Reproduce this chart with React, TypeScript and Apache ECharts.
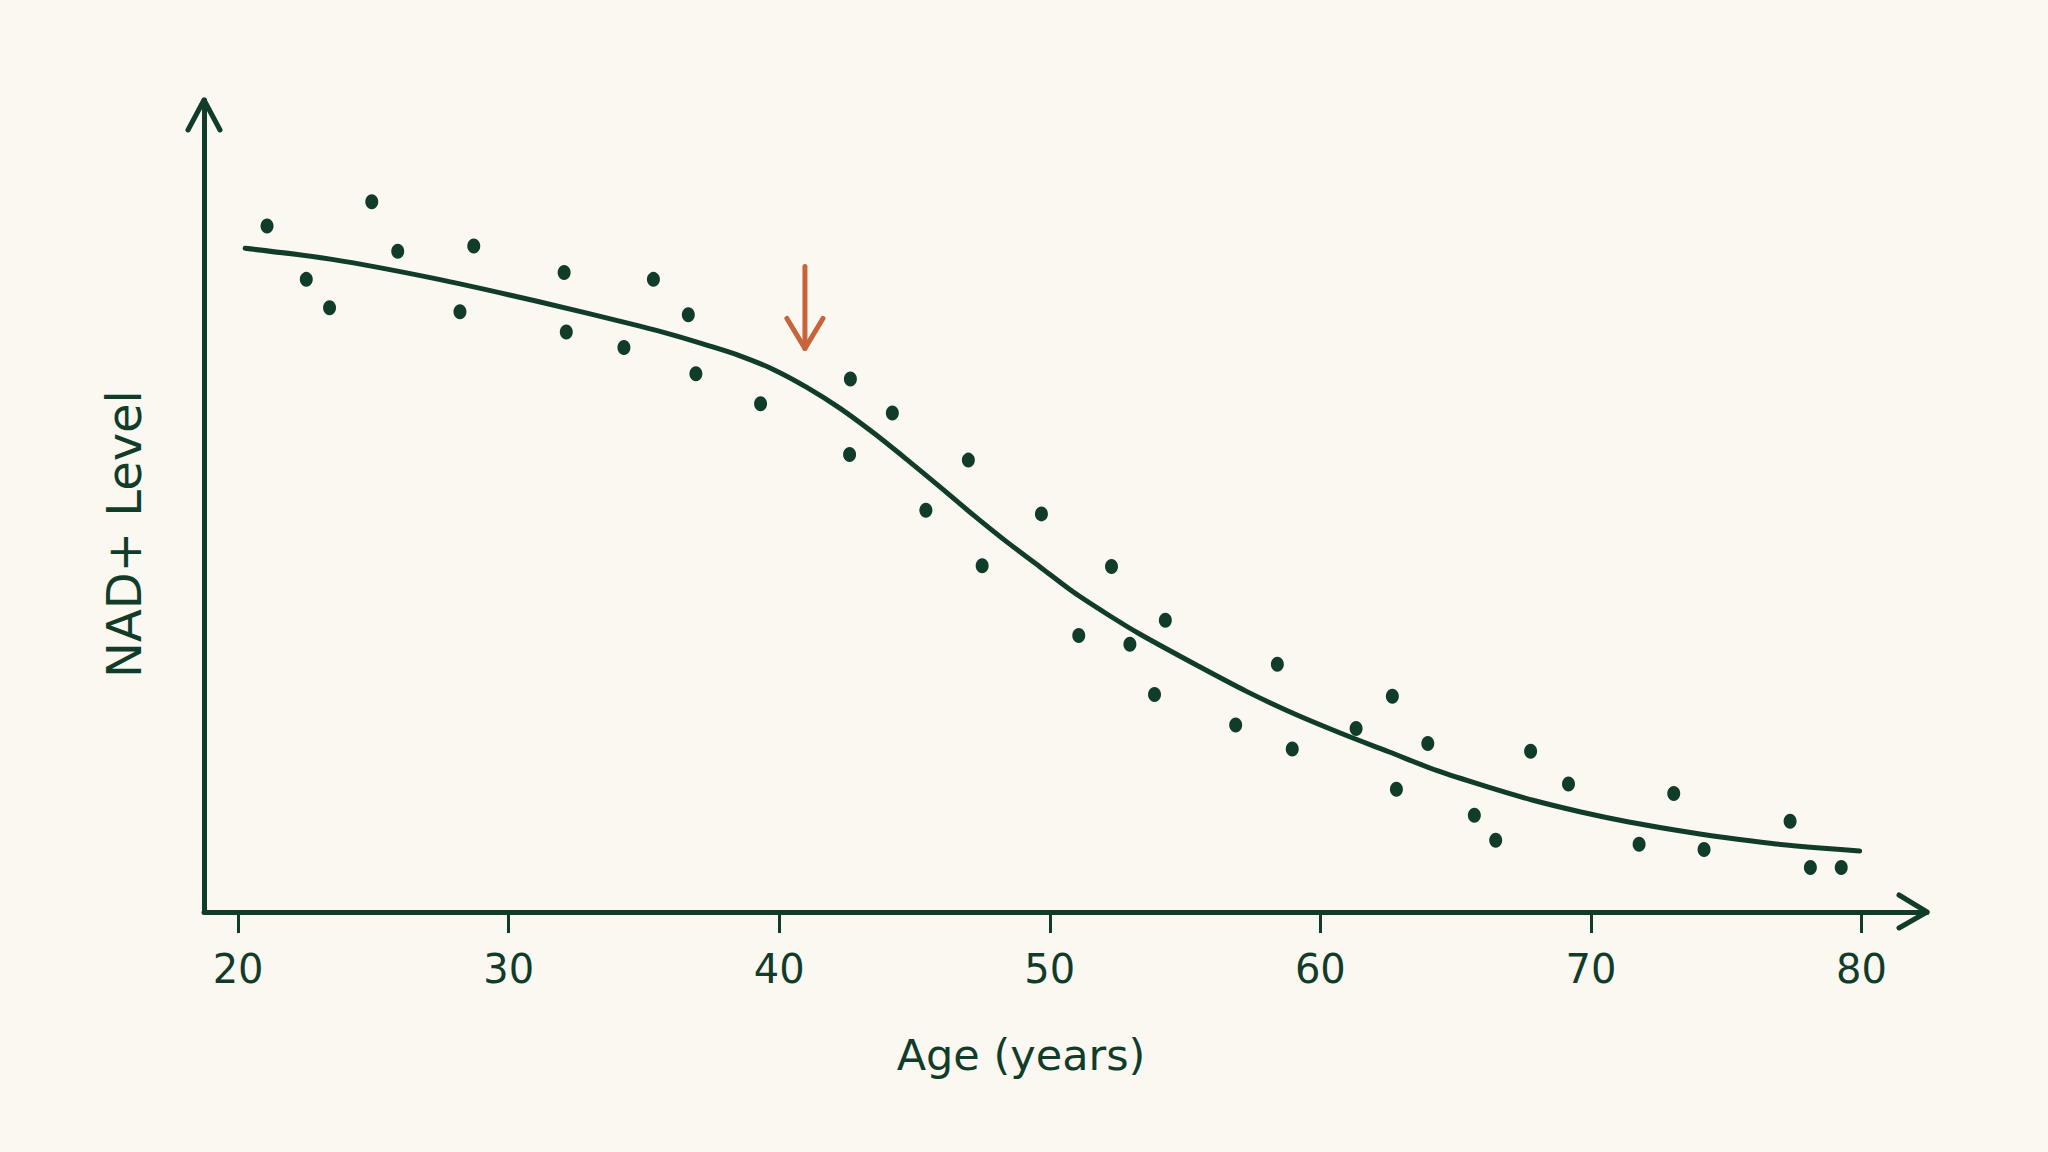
import React, { useEffect, useRef } from "react";
import * as echarts from "echarts";

// ---- data ----
const AGES = [
  21.07, 24.94, 22.52, 23.38, 25.9, 28.71, 28.2, 32.05, 32.13, 35.35, 34.26,
  36.64, 36.92, 39.31, 42.63, 44.18, 42.6, 46.99, 45.42, 47.5, 49.69, 52.28,
  51.07, 52.96, 54.27, 53.87, 56.87, 58.41, 58.96, 61.32, 62.66, 63.97, 62.81,
  65.69, 66.48, 67.77, 69.17, 71.78, 73.06, 74.18, 77.36, 78.11, 79.25,
];
const LEVELS = [
  84.48, 87.47, 77.91, 74.41, 81.36, 82.01, 73.92, 78.77, 71.42, 77.91, 69.53,
  73.55, 66.28, 62.58, 65.63, 61.44, 56.35, 55.65, 49.49, 42.63, 49.03, 42.55,
  34.05, 32.98, 35.94, 26.78, 23.04, 30.52, 20.08, 22.59, 26.57, 20.75, 15.12,
  11.91, 8.83, 19.8, 15.77, 8.34, 14.59, 7.69, 11.17, 5.47, 5.47,
];
const CURVE_AGES = [
  20.26, 23.47, 27.24, 31.01, 34.85, 36.09, 37.32, 38.55, 39.78, 41.02, 42.25,
  43.48, 44.71, 45.94, 47.18, 48.41, 49.64, 50.87, 52.11, 53.34, 55.48, 57.25,
  59.01, 60.78, 62.55, 64.32, 66.09, 67.86, 69.63, 71.4, 73.16, 74.94, 76.7,
  78.47, 79.93,
];
const CURVE_LEVELS = [
  81.73, 80.37, 78.03, 75.24, 72.16, 71.05, 69.82, 68.5, 66.82, 64.61, 62.02,
  59.01, 55.74, 52.36, 48.87, 45.58, 42.5, 39.4, 36.7, 34.2, 30.3, 27.2,
  24.44, 21.98, 19.7, 17.4, 15.5, 13.76, 12.32, 11.09, 10.07, 9.17, 8.43,
  7.88, 7.51,
];
const X_TICKS = [20, 30, 40, 50, 60, 70, 80];
const X_MIN = 18.74;
const X_MAX = 82.42;
const Y_MIN = 0;
const Y_MAX = 100;
// annotation arrow (age, top level, tip level)
const MARK_AGE = 40.95;
const MARK_TOP = 79.5;
const MARK_TIP = 69.4;

const X_NAME = "Age (years)";
const Y_NAME = "NAD+ Level";

// ---- styles ----
const BG = "#FBF8F1";
const INK = "#123C2A";
const ACCENT = "#C8643A";
const FONT = '"DejaVu Sans", "Noto Sans", sans-serif';

export default function App() {
  const ref = useRef<HTMLDivElement>(null);

  useEffect(() => {
    if (!ref.current) return;
    const chart = echarts.init(ref.current, null, { renderer: "svg" });
    const option: any = {
      animation: false,
      backgroundColor: BG,
      grid: { left: 204, right: 121, top: 100, bottom: 240, containLabel: false },
      xAxis: {
        type: "value",
        min: X_MIN,
        max: X_MAX,
        splitLine: { show: false },
        axisLine: { show: true, lineStyle: { color: INK, width: 5, cap: "round" } },
        axisTick: {
          show: true,
          customValues: X_TICKS,
          length: 21,
          lineStyle: { color: INK, width: 3 },
        },
        axisLabel: {
          show: true,
          customValues: X_TICKS,
          margin: 57,
          verticalAlign: "middle",
          color: INK,
          fontFamily: FONT,
          fontSize: 40,
        },
      },
      yAxis: {
        type: "value",
        min: Y_MIN,
        max: Y_MAX,
        splitLine: { show: false },
        axisLine: { show: true, lineStyle: { color: INK, width: 5, cap: "round" } },
        axisTick: { show: false },
        axisLabel: { show: false },
      },
      series: [
        {
          type: "line",
          data: CURVE_AGES.map((a, i) => [a, CURVE_LEVELS[i]]),
          smooth: 0.3,
          symbol: "none",
          lineStyle: { color: INK, width: 5, cap: "round", join: "round" },
          z: 2,
        },
        {
          type: "scatter",
          data: AGES.map((a, i) => [a, LEVELS[i]]),
          symbol: "circle",
          symbolSize: [13, 15],
          itemStyle: { color: INK, opacity: 1 },
          z: 3,
        },
      ],
      graphic: [
        {
          type: "text",
          x: 1021,
          y: 1055,
          style: {
            text: X_NAME,
            fill: INK,
            font: `43px ${FONT}`,
            textAlign: "center",
            textVerticalAlign: "middle",
          },
        },
        {
          type: "text",
          x: 124,
          y: 534,
          rotation: Math.PI / 2,
          style: {
            text: Y_NAME,
            fill: INK,
            font: `48px ${FONT}`,
            textAlign: "center",
            textVerticalAlign: "middle",
          },
        },
      ],
    };
    chart.setOption(option);

    const toPx = (x: number, y: number) =>
      chart.convertToPixel({ gridIndex: 0 }, [x, y]) as number[];
    const xTip = toPx(X_MAX, Y_MIN);
    const yTip = toPx(X_MIN, Y_MAX);
    const mTop = toPx(MARK_AGE, MARK_TOP);
    const mTip = toPx(MARK_AGE, MARK_TIP);
    const inkStroke = { stroke: INK, lineWidth: 5, lineCap: "round", lineJoin: "round", fill: null };
    const accStroke = { stroke: ACCENT, lineWidth: 5, lineCap: "round", lineJoin: "round", fill: null };

    chart.setOption({
      graphic: [
        ...option.graphic,
        {
          type: "polyline",
          shape: {
            points: [
              [xTip[0] - 28, xTip[1] - 17],
              [xTip[0], xTip[1]],
              [xTip[0] - 28, xTip[1] + 16],
            ],
          },
          style: inkStroke,
        },
        {
          type: "polyline",
          shape: {
            points: [
              [yTip[0] - 16, yTip[1] + 30],
              [yTip[0], yTip[1]],
              [yTip[0] + 16, yTip[1] + 30],
            ],
          },
          style: inkStroke,
        },
        {
          type: "line",
          shape: { x1: mTop[0], y1: mTop[1], x2: mTip[0], y2: mTip[1] },
          style: accStroke,
        },
        {
          type: "polyline",
          shape: {
            points: [
              [mTip[0] - 18, mTip[1] - 30],
              [mTip[0], mTip[1]],
              [mTip[0] + 18, mTip[1] - 30],
            ],
          },
          style: accStroke,
        },
      ],
    });

    return () => chart.dispose();
  }, []);

  return (
    <div
      ref={ref}
      style={{
        position: "fixed",
        left: 0,
        top: 0,
        width: 2048,
        height: 1152,
        background: BG,
      }}
    />
  );
}
